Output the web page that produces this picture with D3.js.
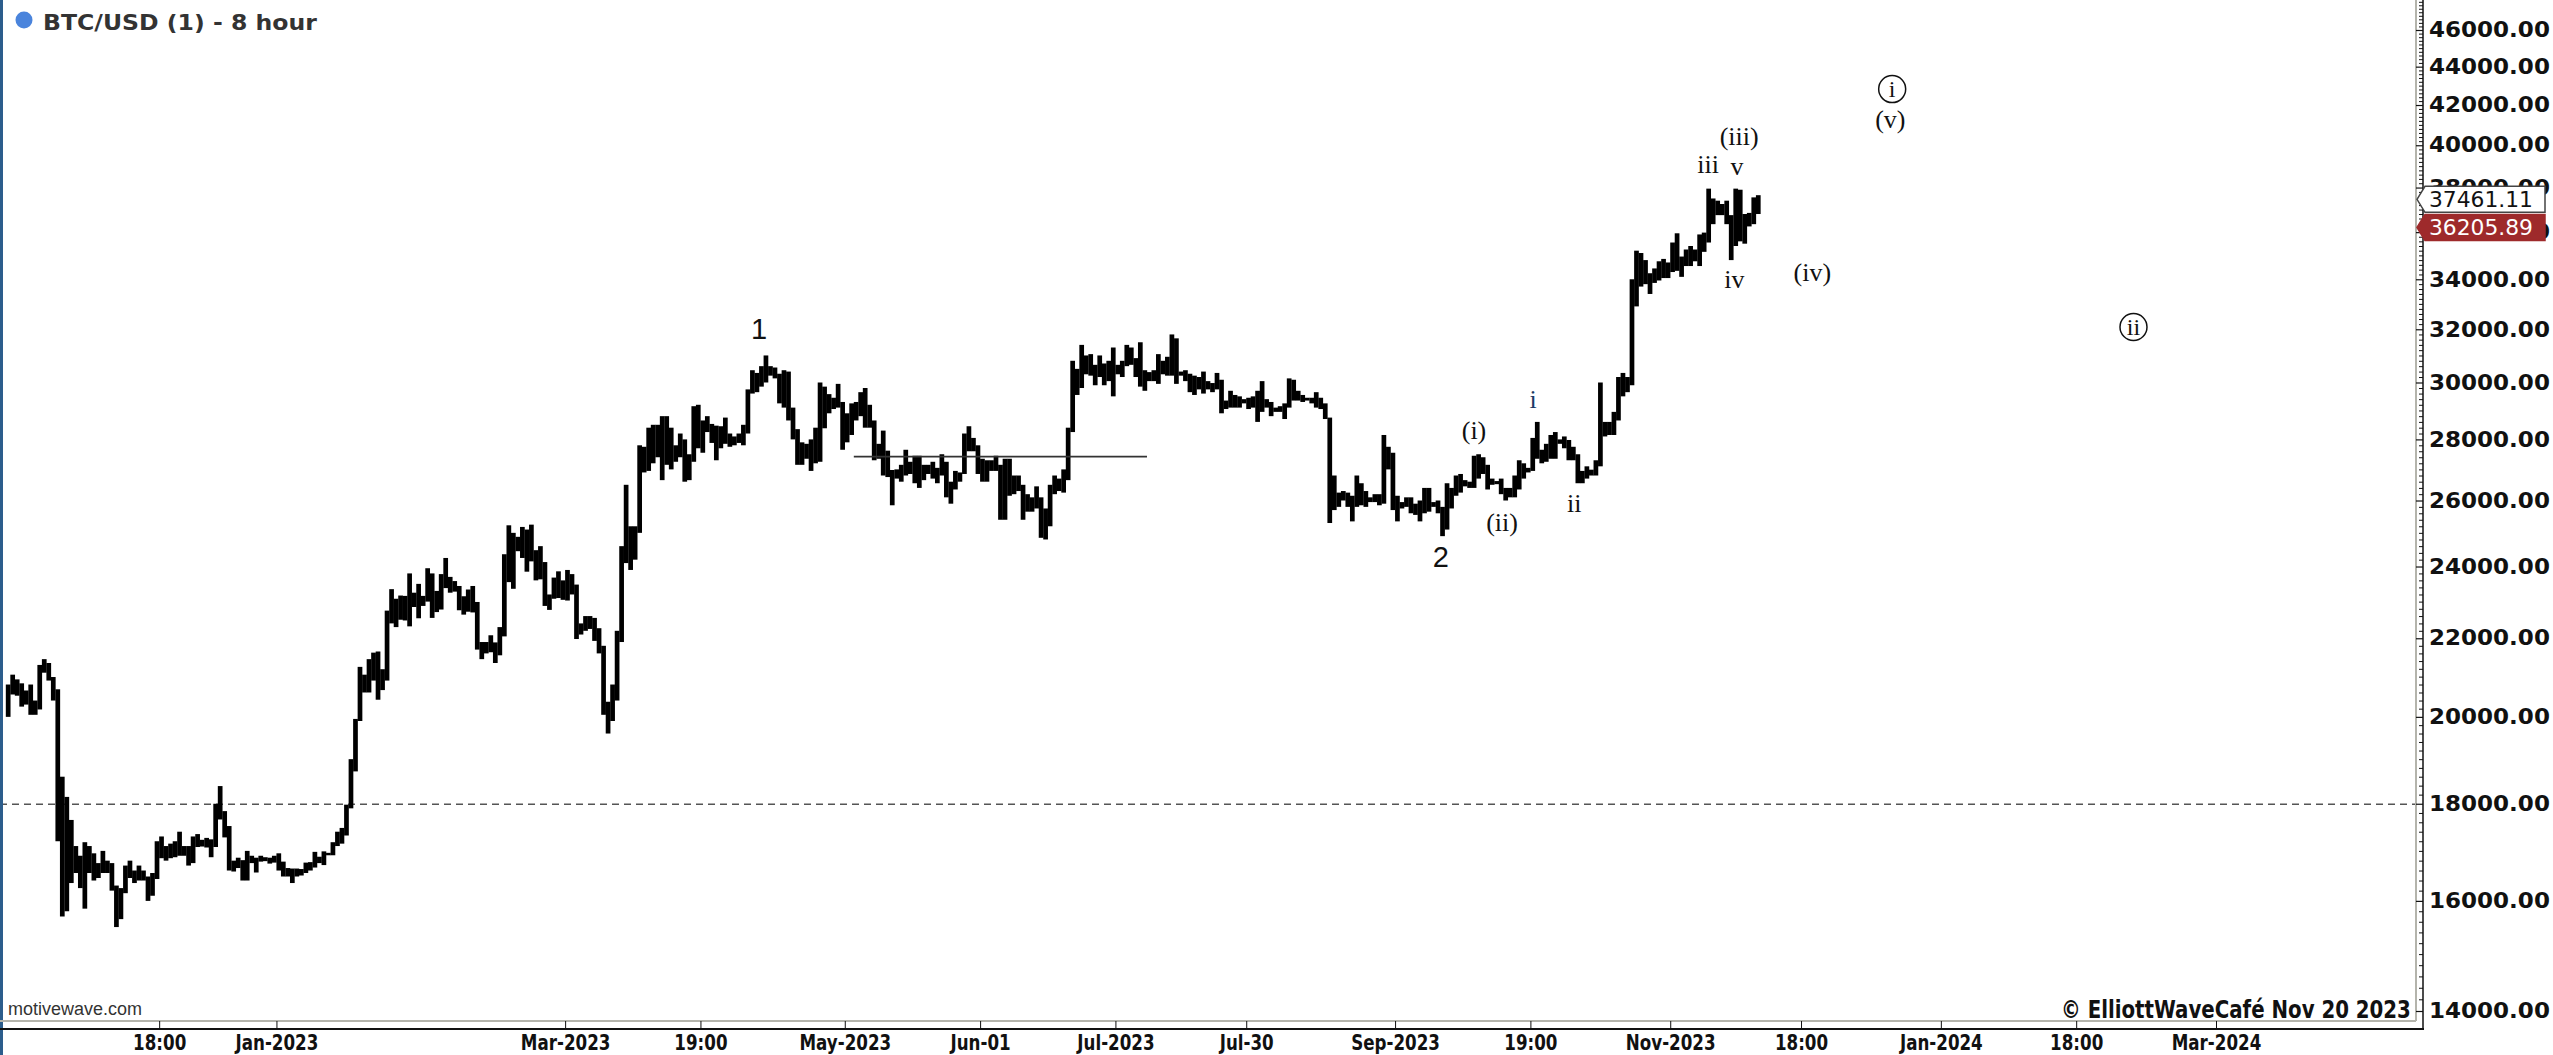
<!DOCTYPE html>
<html>
<head>
<meta charset="utf-8">
<script src="https://cdn.jsdelivr.net/npm/d3@7"></script>
<style>
  body { margin: 0; background: #fff; }
  svg { display: block; }
</style>
</head>
<body>
<svg id="chart" width="2553" height="1055"></svg>
<script>
// daily [high, low], one small array per month
const oct22 = [[20800,20000],[21050,20550],[20930,20520],[20830,20250]];
const nov22 = [[20650,20300],[20800,20050],[20400,20050],[21300,20180],[21450,21100],[21350,20900],[20990,20400],[20680,17200],[18600,15700],[18150,15800],
  [17650,16350],[17100,16550],[16900,16250],[17180,15850],[17100,16550],[16950,16400],[16750,16450],[17000,16550],[16800,16550],[16750,16200],
  [16300,15500],[16250,15650],[16700,16150],[16800,16450],[16600,16350],[16700,16400],[16600,16400],[16480,16000],[16550,16100],[17200,16430]];
const dec22 = [[17300,16850],[17100,16800],[17150,16850],[17200,16870],[17400,16900],[17100,16900],[17100,16700],[17300,16750],[17350,17080],[17230,17090],
  [17270,17070],[17240,16870],[18000,17080],[18390,17660],[17840,17280],[17520,16600],[16800,16580],[16860,16650],[16810,16400],[17000,16400],
  [16900,16750],[16860,16560],[16900,16780],[16870,16790],[16860,16740],[16900,16760],[16950,16600],[16780,16480],[16650,16480],[16640,16350],[16640,16480]];
const jan23 = [[16630,16500],[16760,16550],[16770,16600],[16980,16660],[16880,16750],[16990,16710],[16960,16910],[17180,16910],[17400,17100],[17480,17150],
  [17980,17320],[19000,17900],[19950,18720],[21250,19900],[21050,20600],[21450,20600],[21620,20900],[21650,20420],[21190,20660],[22750,20900],
  [23350,22400],[23080,22300],[23170,22500],[23160,22480],[23800,22320],[23250,22850],[23500,22540],[23160,22880],[23950,23000],[23800,22550],[23300,22710]];
const feb23 = [[23780,22780],[24250,23380],[23700,23250],[23580,23280],[23440,22760],[23150,22640],[23340,22720],[23440,22700],[22990,21700],[21900,21450],
  [21900,21600],[22080,21630],[21890,21350],[22300,21550],[24360,22050],[25230,23550],[25000,23360],[24880,24450],[25180,24250],[25100,23850],
  [25250,24150],[24480,23600],[24600,23630],[24130,22880],[23200,22770],[23680,23080],[23860,23100],[23600,23050]];
const mar23 = [[23900,23030],[23780,23200],[23480,21980],[22400,22100],[22600,22200],[22600,22250],[22550,21930],[22270,21600],[21800,20050],[20370,19600],
  [20800,19900],[22200,20400],[24600,21900],[26500,24100],[25200,23900],[25200,24200],[27800,25000],[27750,26900],[28400,26950],[28500,27200],
  [28500,27400],[28800,26650],[28800,27150],[28400,27000],[27800,27250],[28200,27400],[28000,26600],[27500,26650],[29150,27250],[29200,27700],[28650,27550]];
const apr23 = [[28800,28250],[28530,27880],[28470,27300],[28450,27700],[28750,27850],[28200,27750],[28100,27800],[28200,27880],[28500,27800],[29750,28200],
  [30450,29600],[30350,29650],[30600,29850],[31000,30000],[30600,30250],[30550,30150],[30320,29250],[30450,29100],[30400,28650],[29100,28000],
  [28350,27150],[27900,27150],[27850,27350],[28000,26950],[28400,27200],[30000,27250],[29850,28380],[29580,28900],[29450,29050],[29950,29100]];
const may23 = [[29300,27650],[28900,27900],[29250,28150],[29300,28650],[29650,28800],[29800,28400],[29200,28400],[28650,27300],[27850,27350],[28300,26800],
  [27620,26750],[26980,25850],[27000,26700],[27150,26600],[27650,26800],[27250,26850],[27450,26550],[27450,26400],[27150,26650],[27150,26850],
  [27250,26700],[27050,26550],[27500,26800],[27250,26100],[26600,25900],[26950,26350],[26900,26600],[28200,26850],[28450,27600],[28050,27600],[27800,26850]];
const jun23 = [[27350,26600],[27300,26600],[27300,26950],[27450,26950],[27150,25400],[27350,25400],[27350,26150],[26800,26200],[26800,26300],[26500,25400],
  [26200,25650],[26100,25650],[26450,25750],[26100,24850],[25750,24800],[26500,25200],[26800,26200],[26700,26300],[27000,26250],[28400,26650],
  [30800,28250],[30500,29550],[31400,29800],[31000,30300],[31050,30250],[30650,29900],[31000,30200],[30700,29900],[30800,30050],[31300,29500]];
const jul23 = [[30650,30300],[30800,30200],[31400,30600],[31300,30650],[30900,30200],[31500,29850],[30450,29700],[30380,30050],[30450,30050],[31050,29950],
  [30800,30300],[30950,30250],[31800,30250],[31650,29950],[30400,30250],[30450,30050],[30320,29650],[30250,29550],[30200,29750],[30400,29600],
  [30050,29750],[29980,29650],[30350,29750],[30100,28900],[29350,29050],[29700,29100],[29550,29100],[29500,29100],[29400,29250],[29450,29050],[29500,29100]];
const aug23 = [[29700,28600],[30050,28950],[29400,29100],[29300,28800],[29100,28950],[29150,28950],[29250,28700],[30150,29100],[30100,29350],[29700,29350],
  [29550,29300],[29450,29350],[29450,29250],[29650,29100],[29450,29050],[29250,28700],[28750,25300],[26800,25700],[26250,25800],[26300,26000],
  [26250,25800],[26150,25350],[26800,25800],[26550,25850],[26300,25800],[26100,25950],[26200,25950],[26200,25850],[28150,25900],[27750,27000],[27550,25700]];
const sep23 = [[26150,25350],[25950,25750],[26100,25800],[26100,25600],[25900,25550],[26000,25350],[26400,25600],[26400,25650],[25950,25800],[26000,25600],
  [25800,24900],[26550,25100],[26400,25750],[26800,26150],[26850,26250],[26650,26450],[26600,26400],[27450,26400],[27500,26700],[27400,26850],
  [27150,26350],[26700,26500],[26620,26520],[26700,26200],[26400,26000],[26400,26100],[26800,26100],[27300,26350],[27200,26700],[27050,26900]];
const oct23 = [[28050,26950],[28600,27350],[27650,27200],[27850,27250],[28150,27350],[28250,27350],[28000,27850],[28100,27700],[27980,27300],[27750,27300],
  [27500,26550],[26950,26550],[27100,26700],[26990,26800],[27300,26800],[30000,27100],[28600,28100],[28600,28150],[28950,28150],[30200,28650],
  [30350,29500],[30200,29650],[34000,29900],[35200,32900],[35100,33700],[34800,33800],[34250,33400],[34450,33850],[34750,33950],[34850,34050],[34700,34050]];
const nov23 = [[35550,34300],[35950,34350],[34950,34100],[35250,34550],[35400,34550],[35250,34750],[35900,34550],[35980,35150],[37950,35550],[37500,36350],
  [37400,36750],[37250,36750],[37400,36350],[36750,34800],[37950,35400],[37900,35600],[36800,35500],[36850,36250],[37550,36350],[37650,36800]];

const months = [
  ['2022-10-28', oct22], ['2022-11-01', nov22], ['2022-12-01', dec22], ['2023-01-01', jan23],
  ['2023-02-01', feb23], ['2023-03-01', mar23], ['2023-04-01', apr23], ['2023-05-01', may23],
  ['2023-06-01', jun23], ['2023-07-01', jul23], ['2023-08-01', aug23], ['2023-09-01', sep23],
  ['2023-10-01', oct23], ['2023-11-01', nov23]
];

const xTicks = [
  ['2022-12-01', '18:00'], ['2022-12-27', 'Jan-2023'], ['2023-03-01', 'Mar-2023'], ['2023-03-31', '19:00'],
  ['2023-05-02', 'May-2023'], ['2023-06-01', 'Jun-01'], ['2023-07-01', 'Jul-2023'], ['2023-07-30', 'Jul-30'],
  ['2023-09-01', 'Sep-2023'], ['2023-10-01', '19:00'], ['2023-11-01', 'Nov-2023'], ['2023-11-30', '18:00'],
  ['2023-12-31', 'Jan-2024'], ['2024-01-30', '18:00'], ['2024-03-01', 'Mar-2024']
];
const yMajor = d3.range(14000, 46001, 2000);
const yMinor = d3.range(14000, 48001, 200).filter(v => v % 2000 !== 0);

// wave count: text, time, price, kind
const waves = [
  ['1', '2023-04-13T00', 32010, 'big'],
  ['2', '2023-09-11T04', 24280, 'big'],
  ['(i)', '2023-09-18T12', 28290, 'w'],
  ['(ii)', '2023-09-24T17', 25330, 'w'],
  ['i', '2023-10-01T14', 29400, 'blue'],
  ['ii', '2023-10-10T17', 25920, 'w'],
  ['iii', '2023-11-09T10', 39100, 'w'],
  ['v', '2023-11-15T19', 38960, 'w'],
  ['(iii)', '2023-11-16T07', 40450, 'w'],
  ['iv', '2023-11-15T05', 34010, 'w'],
  ['(iv)', '2023-12-02T12', 34260, 'w'],
  ['(v)', '2023-12-19T19', 41250, 'w'],
  ['i', '2023-12-20T05', 42820, 'circle'],
  ['ii', '2024-02-11T17', 32090, 'circle']
];
const levelLine = { from: '2023-05-04', to: '2023-07-08', price: 27420 };
const dashedLevel = 17990;
const lastPrice = 37461.11;
const markPrice = 36205.89;

const W = 2553, H = 1055;
const plotR = 2416, axisX = 2423, plotB = 1021, axisY = 1029;

const svg = d3.select('#chart');
const bars = [];
months.forEach(([start, arr]) => {
  const t0 = new Date(start + 'T00:00:00Z');
  arr.forEach((d, i) => bars.push({ t: d3.utcDay.offset(t0, i), hi: d[0], lo: d[1] }));
});

const x = d3.scaleUtc()
  .domain([new Date('2023-01-01T00:00:00Z'), new Date('2024-03-01T00:00:00Z')])
  .range([299, 2216]);
const y = d3.scaleLog()
  .domain([14000, 46000])
  .range([1011, 30]);
const t = s => new Date(s.length <= 10 ? s + 'T00:00:00Z' : s + ':00:00Z');

svg.append('defs').append('clipPath').attr('id', 'plot')
  .append('rect').attr('x', 0).attr('y', 0).attr('width', plotR).attr('height', plotB);

const plot = svg.append('g').attr('clip-path', 'url(#plot)');

// frame
svg.append('rect').attr('x', 0).attr('y', 0).attr('width', 3).attr('height', H).attr('fill', '#2c5d8c');
svg.append('line').attr('x1', plotR).attr('x2', plotR).attr('y1', 0).attr('y2', plotB)
  .attr('stroke', '#b4b4ac').attr('stroke-width', 2);
svg.append('line').attr('x1', 0).attr('x2', plotR).attr('y1', plotB).attr('y2', plotB)
  .attr('stroke', '#b4b4ac').attr('stroke-width', 2);
svg.append('line').attr('x1', axisX).attr('x2', axisX).attr('y1', 0).attr('y2', axisY + 1)
  .attr('stroke', '#111').attr('stroke-width', 1.5);
svg.append('line').attr('x1', 0).attr('x2', axisX + 1).attr('y1', axisY).attr('y2', axisY)
  .attr('stroke', '#111').attr('stroke-width', 2);

// dashed level
plot.append('line')
  .attr('x1', 0).attr('x2', plotR)
  .attr('y1', y(dashedLevel)).attr('y2', y(dashedLevel))
  .attr('stroke', '#555').attr('stroke-width', 1.5).attr('stroke-dasharray', '7,5');

// price bars, one per day
plot.append('g').selectAll('rect')
  .data(bars)
  .join('rect')
  .attr('x', d => x(d.t))
  .attr('width', d => x(d3.utcDay.offset(d.t, 1)) - x(d.t) + 0.2)
  .attr('y', d => y(d.hi))
  .attr('height', d => Math.max(2, y(d.lo) - y(d.hi)))
  .attr('fill', '#000');

// horizontal level segment
plot.append('line')
  .attr('x1', x(t(levelLine.from))).attr('x2', x(t(levelLine.to)))
  .attr('y1', y(levelLine.price)).attr('y2', y(levelLine.price))
  .attr('stroke', '#333').attr('stroke-width', 1.6);

// wave labels
const wl = plot.append('g');
waves.forEach(([txt, when, price, kind]) => {
  const cx = x(t(when)), cy = y(price);
  if (kind === 'circle') {
    wl.append('circle').attr('cx', cx).attr('cy', cy).attr('r', 13.5)
      .attr('fill', 'none').attr('stroke', '#111').attr('stroke-width', 1.5);
  }
  wl.append('text')
    .attr('x', cx).attr('y', cy)
    .attr('text-anchor', 'middle')
    .attr('dominant-baseline', 'central')
    .attr('font-family', kind === 'big' ? 'Liberation Sans, Arial, sans-serif' : 'Liberation Serif, Times New Roman, serif')
    .attr('font-size', kind === 'big' ? 29 : kind === 'circle' ? 24 : 26)
    .attr('fill', kind === 'blue' ? '#1d3a66' : '#111')
    .text(txt);
});

// x axis
const tickMap = new Map(xTicks.map(d => [t(d[0]).getTime(), d[1]]));
const xAxis = svg.append('g')
  .attr('transform', `translate(0,${plotB})`)
  .call(d3.axisBottom(x)
    .tickValues(xTicks.map(d => t(d[0])))
    .tickSize(8)
    .tickPadding(5)
    .tickFormat(d => tickMap.get(d.getTime())));
xAxis.select('.domain').remove();
xAxis.selectAll('line').attr('stroke', '#111');
xAxis.selectAll('text')
  .attr('font-family', 'DejaVu Sans, Verdana, sans-serif')
  .attr('font-weight', 'bold')
  .attr('font-size', 22)
  .attr('fill', '#111')
  .attr('transform', 'scale(0.76,1)');

// y axis
const yMinorAxis = svg.append('g')
  .attr('transform', `translate(${axisX},0)`)
  .call(d3.axisRight(y).tickValues(yMinor).tickSize(-4).tickFormat(''));
yMinorAxis.select('.domain').remove();
yMinorAxis.selectAll('line').attr('stroke', '#111');

const yAxis = svg.append('g')
  .attr('transform', `translate(${axisX},0)`)
  .call(d3.axisRight(y).tickValues(yMajor).tickSize(-7).tickPadding(6).tickFormat(d3.format('.2f')));
yAxis.select('.domain').remove();
yAxis.selectAll('line').attr('stroke', '#111').attr('stroke-width', 1.2);
const yText = yAxis.selectAll('text')
  .attr('font-family', 'DejaVu Sans, Verdana, sans-serif')
  .attr('font-weight', 'bold')
  .attr('font-size', 21)
  .attr('fill', '#111');
const yw = yText.filter(d => d === 46000).node().getComputedTextLength();
yText.attr('x', 0).attr('transform', `translate(6,0) scale(${121 / yw},1)`);

// price tags
function tag(price, fill, stroke, color) {
  const yc = y(price), h = 13;
  svg.append('path')
    .attr('d', `M${plotR + 1},${yc} L${plotR + 9},${yc - h} L2545,${yc - h} L2545,${yc + h} L${plotR + 9},${yc + h} Z`)
    .attr('fill', fill).attr('stroke', stroke).attr('stroke-width', 1.5);
  const tx = svg.append('text')
    .attr('x', 0).attr('y', 0)
    .attr('dy', '0.36em')
    .attr('font-family', 'DejaVu Sans, Verdana, sans-serif')
    .attr('font-size', 21)
    .attr('fill', color)
    .text(d3.format('.2f')(price));
  const w = tx.node().getComputedTextLength();
  tx.attr('transform', `translate(2429,${yc}) scale(${104 / w},1)`);
}
tag(lastPrice, '#fff', '#444', '#111');
tag(markPrice, '#9e2a2b', '#9e2a2b', '#fff');

// title
svg.append('circle').attr('cx', 24).attr('cy', 20).attr('r', 8.5).attr('fill', '#4a84dc');
function fitText(txt, x0, y0, target, opts) {
  const el = svg.append('text').attr('x', 0).attr('y', 0)
    .attr('font-family', opts.family)
    .attr('font-weight', opts.weight || 'normal')
    .attr('font-size', opts.size)
    .attr('fill', opts.fill)
    .text(txt);
  const w = el.node().getComputedTextLength();
  const sx = target / w;
  const left = opts.anchor === 'end' ? x0 - target : x0;
  el.attr('transform', `translate(${left},${y0}) scale(${sx},1)`);
  return el;
}
fitText('BTC/USD (1) - 8 hour', 43, 30, 274, { family: 'DejaVu Sans, Verdana, sans-serif', weight: 'bold', size: 21, fill: '#333' });
fitText('motivewave.com', 8, 1015, 134, { family: 'Liberation Sans, Arial, sans-serif', size: 19, fill: '#333' });
fitText('\u00a9 ElliottWaveCaf\u00e9 Nov 20 2023', 2411, 1018, 350, { family: 'DejaVu Sans, Verdana, sans-serif', weight: 'bold', size: 24, fill: '#111', anchor: 'end' });
</script>
</body>
</html>
